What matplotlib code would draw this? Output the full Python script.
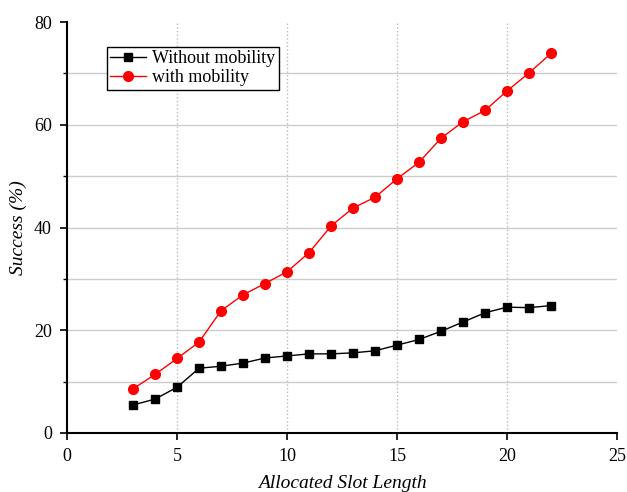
import numpy as np
import matplotlib
from matplotlib import pyplot as plt
from matplotlib.ticker import MultipleLocator

matplotlib.use('Agg')

slot_length = [3, 4, 5, 6, 7, 8, 9, 10, 11, 12, 13, 14, 15, 16, 17, 18, 19, 20, 21, 22]
without_mobility = [5.45, 6.6, 8.9, 12.6, 13.0, 13.6, 14.6, 15.0, 15.4, 15.4, 15.6, 16.0,
                    17.1, 18.2, 19.8, 21.6, 23.4, 24.5, 24.4, 24.8]
with_mobility = [8.6, 11.4, 14.5, 17.7, 23.8, 26.9, 29.1, 31.4, 35.1, 40.3, 43.8, 45.9,
                 49.5, 52.7, 57.4, 60.6, 62.8, 66.6, 70.1, 73.9]

plt.rcParams['font.family'] = ['Liberation Serif', 'DejaVu Serif']

fig = plt.figure(figsize=(6.27, 4.92), dpi=100)
ax = fig.add_axes([0.107, 0.120, 0.877, 0.835])

ax.plot(slot_length, without_mobility, color="black", marker="s", markersize=6, linewidth=1,
        label="Without mobility", zorder=3)
ax.plot(slot_length, with_mobility, color="red", marker="o", markersize=7, linewidth=1,
        label="with mobility", zorder=3)

ax.set_xlim(0, 25)
ax.set_ylim(0, 80)
ax.xaxis.set_major_locator(MultipleLocator(5))
ax.yaxis.set_major_locator(MultipleLocator(20))
ax.yaxis.set_minor_locator(MultipleLocator(10))

# grid lines inside the frame only
for xv in [5, 10, 15, 20]:
    ax.axvline(xv, color="#bbbbbb", linestyle=":", linewidth=1, zorder=0)
for yv in [10, 20, 30, 40, 50, 60, 70]:
    ax.axhline(yv, color="#cccccc", linestyle="-", linewidth=1, zorder=0)

ax.spines["top"].set_visible(False)
ax.spines["right"].set_visible(False)
ax.spines["left"].set_linewidth(1.5)
ax.spines["bottom"].set_linewidth(1.5)
ax.tick_params(axis="both", which="major", direction="out", length=5, width=1.2, labelsize=13, pad=6)
ax.tick_params(axis="y", which="minor", direction="out", length=3, width=1)

ax.set_xlabel("Allocated Slot Length", fontsize=14, style="italic", labelpad=7)
ax.set_ylabel("Success (%)", fontsize=14, style="italic", labelpad=5)

leg = ax.legend(loc="upper left", bbox_to_anchor=(0.072, 0.94), fontsize=13, frameon=True,
                fancybox=False, edgecolor="black", framealpha=1, borderpad=0.2,
                handlelength=2.0, handletextpad=0.3, labelspacing=0.1, borderaxespad=0)
leg.get_frame().set_linewidth(1)

fig.savefig("out.png", dpi=100)
